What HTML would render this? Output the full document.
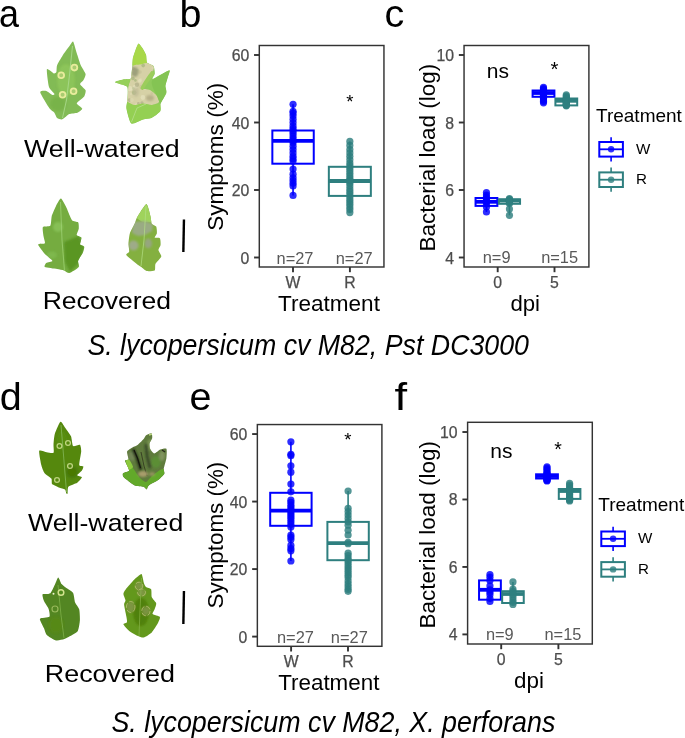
<!DOCTYPE html>
<html><head><meta charset="utf-8"><title>Figure</title>
<style>html,body{margin:0;padding:0;background:#fff;} body{width:685px;height:738px;overflow:hidden;font-family:"Liberation Sans",sans-serif;} svg{display:block;will-change:transform;}</style>
</head><body>
<svg width="685" height="738" viewBox="0 0 685 738" font-family="Liberation Sans, sans-serif">
<rect width="685" height="738" fill="#fff"/>
<text x="-1.1" y="26.6" font-size="39" text-anchor="start" fill="#000"  textLength="20" lengthAdjust="spacingAndGlyphs">a</text>
<text x="179.5" y="26.9" font-size="39.5" text-anchor="start" fill="#000"  >b</text>
<text x="384.6" y="26.8" font-size="39.5" text-anchor="start" fill="#000"  >c</text>
<text x="-0.2" y="410.4" font-size="39.5" text-anchor="start" fill="#000"  >d</text>
<text x="189.6" y="410.2" font-size="39.5" text-anchor="start" fill="#000"  >e</text>
<text x="394.6" y="410" font-size="39.5" text-anchor="start" fill="#000"  textLength="12.6" lengthAdjust="spacingAndGlyphs">f</text>
<text x="101.9" y="157.3" font-size="24.8" text-anchor="middle" fill="#000"  textLength="155.7" lengthAdjust="spacingAndGlyphs">Well-watered</text>
<text x="106.9" y="308.6" font-size="24.8" text-anchor="middle" fill="#000"  textLength="128.5" lengthAdjust="spacingAndGlyphs">Recovered</text>
<text x="105.7" y="531.1" font-size="24.8" text-anchor="middle" fill="#000"  textLength="155.2" lengthAdjust="spacingAndGlyphs">Well-watered</text>
<text x="109.8" y="682.4" font-size="24.8" text-anchor="middle" fill="#000"  textLength="130.1" lengthAdjust="spacingAndGlyphs">Recovered</text>
<text x="308.2" y="354.8" font-size="28.8" text-anchor="middle" fill="#000" font-style="italic" textLength="441.6" lengthAdjust="spacingAndGlyphs">S. lycopersicum cv M82, Pst DC3000</text>
<text x="333.4" y="732.1" font-size="28.6" text-anchor="middle" fill="#000" font-style="italic" textLength="443.9" lengthAdjust="spacingAndGlyphs">S. lycopersicum cv M82, X. perforans</text>
<line x1="183.95" y1="219.4" x2="183.35" y2="251.9" stroke="#000" stroke-width="2.4"/>
<line x1="183.95" y1="591.1" x2="183.35" y2="623.9" stroke="#000" stroke-width="2.4"/>
<line x1="293.05" y1="104.275" x2="293.05" y2="130.5" stroke="#0000ff" stroke-width="1.6"/>
<line x1="293.05" y1="163.7" x2="293.05" y2="195.4" stroke="#0000ff" stroke-width="1.6"/>
<rect x="272.35" y="130.5" width="41.4" height="33.19999999999999" fill="#fff" stroke="#0000ff" stroke-width="2.0"/>
<line x1="272.35" y1="140.9" x2="313.75" y2="140.9" stroke="#0000ff" stroke-width="3.8"/>
<circle cx="293.05" cy="104.275" r="3.6" fill="#0000ff" fill-opacity="0.82"/>
<circle cx="293.05" cy="111.36250000000001" r="3.6" fill="#0000ff" fill-opacity="0.82"/>
<circle cx="293.05" cy="113.05000000000001" r="3.6" fill="#0000ff" fill-opacity="0.82"/>
<circle cx="293.05" cy="115.75" r="3.6" fill="#0000ff" fill-opacity="0.82"/>
<circle cx="293.05" cy="119.125" r="3.6" fill="#0000ff" fill-opacity="0.82"/>
<circle cx="293.05" cy="122.5" r="3.6" fill="#0000ff" fill-opacity="0.82"/>
<circle cx="293.05" cy="125.875" r="3.6" fill="#0000ff" fill-opacity="0.82"/>
<circle cx="293.05" cy="128.575" r="3.6" fill="#0000ff" fill-opacity="0.82"/>
<circle cx="293.05" cy="130.9375" r="3.6" fill="#0000ff" fill-opacity="0.82"/>
<circle cx="293.05" cy="133.3" r="3.6" fill="#0000ff" fill-opacity="0.82"/>
<circle cx="293.05" cy="136.0" r="3.6" fill="#0000ff" fill-opacity="0.82"/>
<circle cx="293.05" cy="138.7" r="3.6" fill="#0000ff" fill-opacity="0.82"/>
<circle cx="293.05" cy="140.725" r="3.6" fill="#0000ff" fill-opacity="0.82"/>
<circle cx="293.05" cy="142.75" r="3.6" fill="#0000ff" fill-opacity="0.82"/>
<circle cx="293.05" cy="146.125" r="3.6" fill="#0000ff" fill-opacity="0.82"/>
<circle cx="293.05" cy="149.5" r="3.6" fill="#0000ff" fill-opacity="0.82"/>
<circle cx="293.05" cy="152.875" r="3.6" fill="#0000ff" fill-opacity="0.82"/>
<circle cx="293.05" cy="156.25" r="3.6" fill="#0000ff" fill-opacity="0.82"/>
<circle cx="293.05" cy="158.95" r="3.6" fill="#0000ff" fill-opacity="0.82"/>
<circle cx="293.05" cy="160.975" r="3.6" fill="#0000ff" fill-opacity="0.82"/>
<circle cx="293.05" cy="169.075" r="3.6" fill="#0000ff" fill-opacity="0.82"/>
<circle cx="293.05" cy="174.1375" r="3.6" fill="#0000ff" fill-opacity="0.82"/>
<circle cx="293.05" cy="177.85" r="3.6" fill="#0000ff" fill-opacity="0.82"/>
<circle cx="293.05" cy="180.55" r="3.6" fill="#0000ff" fill-opacity="0.82"/>
<circle cx="293.05" cy="183.25" r="3.6" fill="#0000ff" fill-opacity="0.82"/>
<circle cx="293.05" cy="185.95" r="3.6" fill="#0000ff" fill-opacity="0.82"/>
<circle cx="293.05" cy="195.4" r="3.6" fill="#0000ff" fill-opacity="0.82"/>
<line x1="349.85" y1="141.4" x2="349.85" y2="166.8" stroke="#2e7f7f" stroke-width="1.6"/>
<line x1="349.85" y1="195.9" x2="349.85" y2="212.6125" stroke="#2e7f7f" stroke-width="1.6"/>
<rect x="328.85" y="166.8" width="42.0" height="29.099999999999994" fill="#fff" stroke="#2e7f7f" stroke-width="2.0"/>
<line x1="328.85" y1="181.0" x2="370.85" y2="181.0" stroke="#2e7f7f" stroke-width="3.8"/>
<circle cx="349.85" cy="141.4" r="3.6" fill="#2e7f7f" fill-opacity="0.82"/>
<circle cx="349.85" cy="145.45" r="3.6" fill="#2e7f7f" fill-opacity="0.82"/>
<circle cx="349.85" cy="149.5" r="3.6" fill="#2e7f7f" fill-opacity="0.82"/>
<circle cx="349.85" cy="152.875" r="3.6" fill="#2e7f7f" fill-opacity="0.82"/>
<circle cx="349.85" cy="156.25" r="3.6" fill="#2e7f7f" fill-opacity="0.82"/>
<circle cx="349.85" cy="159.625" r="3.6" fill="#2e7f7f" fill-opacity="0.82"/>
<circle cx="349.85" cy="163.0" r="3.6" fill="#2e7f7f" fill-opacity="0.82"/>
<circle cx="349.85" cy="165.7" r="3.6" fill="#2e7f7f" fill-opacity="0.82"/>
<circle cx="349.85" cy="168.0625" r="3.6" fill="#2e7f7f" fill-opacity="0.82"/>
<circle cx="349.85" cy="170.425" r="3.6" fill="#2e7f7f" fill-opacity="0.82"/>
<circle cx="349.85" cy="173.125" r="3.6" fill="#2e7f7f" fill-opacity="0.82"/>
<circle cx="349.85" cy="175.825" r="3.6" fill="#2e7f7f" fill-opacity="0.82"/>
<circle cx="349.85" cy="178.1875" r="3.6" fill="#2e7f7f" fill-opacity="0.82"/>
<circle cx="349.85" cy="180.55" r="3.6" fill="#2e7f7f" fill-opacity="0.82"/>
<circle cx="349.85" cy="180.8875" r="3.6" fill="#2e7f7f" fill-opacity="0.82"/>
<circle cx="349.85" cy="183.25" r="3.6" fill="#2e7f7f" fill-opacity="0.82"/>
<circle cx="349.85" cy="185.95" r="3.6" fill="#2e7f7f" fill-opacity="0.82"/>
<circle cx="349.85" cy="188.9875" r="3.6" fill="#2e7f7f" fill-opacity="0.82"/>
<circle cx="349.85" cy="191.6875" r="3.6" fill="#2e7f7f" fill-opacity="0.82"/>
<circle cx="349.85" cy="194.05" r="3.6" fill="#2e7f7f" fill-opacity="0.82"/>
<circle cx="349.85" cy="196.75" r="3.6" fill="#2e7f7f" fill-opacity="0.82"/>
<circle cx="349.85" cy="199.45" r="3.6" fill="#2e7f7f" fill-opacity="0.82"/>
<circle cx="349.85" cy="201.8125" r="3.6" fill="#2e7f7f" fill-opacity="0.82"/>
<circle cx="349.85" cy="204.175" r="3.6" fill="#2e7f7f" fill-opacity="0.82"/>
<circle cx="349.85" cy="206.875" r="3.6" fill="#2e7f7f" fill-opacity="0.82"/>
<circle cx="349.85" cy="209.575" r="3.6" fill="#2e7f7f" fill-opacity="0.82"/>
<circle cx="349.85" cy="212.6125" r="3.6" fill="#2e7f7f" fill-opacity="0.82"/>
<rect x="259.3" y="45.5" width="124.64999999999998" height="221.5" fill="none" stroke="#333333" stroke-width="1.45"/>
<line x1="254.10000000000002" y1="55.0" x2="259.3" y2="55.0" stroke="#333333" stroke-width="1.9"/>
<text x="249.3" y="61.0" font-size="15.8" text-anchor="end" fill="#4d4d4d"  stroke="#4d4d4d" stroke-width="0.25">60</text>
<line x1="254.10000000000002" y1="122.5" x2="259.3" y2="122.5" stroke="#333333" stroke-width="1.9"/>
<text x="249.3" y="128.5" font-size="15.8" text-anchor="end" fill="#4d4d4d"  stroke="#4d4d4d" stroke-width="0.25">40</text>
<line x1="254.10000000000002" y1="190.0" x2="259.3" y2="190.0" stroke="#333333" stroke-width="1.9"/>
<text x="249.3" y="196.0" font-size="15.8" text-anchor="end" fill="#4d4d4d"  stroke="#4d4d4d" stroke-width="0.25">20</text>
<line x1="254.10000000000002" y1="257.5" x2="259.3" y2="257.5" stroke="#333333" stroke-width="1.9"/>
<text x="249.3" y="263.5" font-size="15.8" text-anchor="end" fill="#4d4d4d"  stroke="#4d4d4d" stroke-width="0.25">0</text>
<line x1="293.0" y1="267.0" x2="293.0" y2="272.2" stroke="#333333" stroke-width="1.9"/>
<text x="293.0" y="287.8" font-size="15.8" text-anchor="middle" fill="#4d4d4d"  stroke="#4d4d4d" stroke-width="0.25">W</text>
<line x1="349.9" y1="267.0" x2="349.9" y2="272.2" stroke="#333333" stroke-width="1.9"/>
<text x="349.9" y="287.8" font-size="15.8" text-anchor="middle" fill="#4d4d4d"  stroke="#4d4d4d" stroke-width="0.25">R</text>
<text x="295.0" y="263.6" font-size="16.4" text-anchor="middle" fill="#595959"  >n=27</text>
<text x="354.2" y="263.6" font-size="16.4" text-anchor="middle" fill="#595959"  >n=27</text>
<text x="349.9" y="107.8" font-size="18.5" text-anchor="middle" fill="#000"  >*</text>
<text x="329.0" y="310.8" font-size="22.5" text-anchor="middle" fill="#000"  textLength="101.8" lengthAdjust="spacingAndGlyphs">Treatment</text>
<text x="0" y="0" font-size="22.6" text-anchor="middle" fill="#000"  transform="translate(223.0,156.8) rotate(-90)">Symptoms (%)</text>
<rect x="464.05" y="45.5" width="124.84999999999997" height="221.5" fill="none" stroke="#333333" stroke-width="1.45"/>
<line x1="486.45" y1="192.5" x2="486.45" y2="198.0" stroke="#0000ff" stroke-width="1.6"/>
<line x1="486.45" y1="205.9" x2="486.45" y2="212" stroke="#0000ff" stroke-width="1.6"/>
<rect x="475.55" y="198.0" width="21.8" height="7.900000000000006" fill="#fff" stroke="#0000ff" stroke-width="2.0"/>
<line x1="475.55" y1="201.8" x2="497.34999999999997" y2="201.8" stroke="#0000ff" stroke-width="3.8"/>
<circle cx="486.45" cy="192.5" r="3.6" fill="#0000ff" fill-opacity="0.82"/>
<circle cx="486.45" cy="195" r="3.6" fill="#0000ff" fill-opacity="0.82"/>
<circle cx="486.45" cy="197" r="3.6" fill="#0000ff" fill-opacity="0.82"/>
<circle cx="486.45" cy="199" r="3.6" fill="#0000ff" fill-opacity="0.82"/>
<circle cx="486.45" cy="200.5" r="3.6" fill="#0000ff" fill-opacity="0.82"/>
<circle cx="486.45" cy="202" r="3.6" fill="#0000ff" fill-opacity="0.82"/>
<circle cx="486.45" cy="204" r="3.6" fill="#0000ff" fill-opacity="0.82"/>
<circle cx="486.45" cy="207" r="3.6" fill="#0000ff" fill-opacity="0.82"/>
<circle cx="486.45" cy="212" r="3.6" fill="#0000ff" fill-opacity="0.82"/>
<line x1="509.45" y1="198.5" x2="509.45" y2="199.3" stroke="#2e7f7f" stroke-width="1.6"/>
<line x1="509.45" y1="203.8" x2="509.45" y2="215.3" stroke="#2e7f7f" stroke-width="1.6"/>
<rect x="498.84999999999997" y="199.3" width="21.2" height="4.5" fill="#fff" stroke="#2e7f7f" stroke-width="2.0"/>
<line x1="498.84999999999997" y1="200.6" x2="520.05" y2="200.6" stroke="#2e7f7f" stroke-width="3.8"/>
<circle cx="509.45" cy="198.5" r="3.6" fill="#2e7f7f" fill-opacity="0.82"/>
<circle cx="509.45" cy="199.3" r="3.6" fill="#2e7f7f" fill-opacity="0.82"/>
<circle cx="509.45" cy="200.2" r="3.6" fill="#2e7f7f" fill-opacity="0.82"/>
<circle cx="509.45" cy="201" r="3.6" fill="#2e7f7f" fill-opacity="0.82"/>
<circle cx="509.45" cy="201.8" r="3.6" fill="#2e7f7f" fill-opacity="0.82"/>
<circle cx="509.45" cy="202.6" r="3.6" fill="#2e7f7f" fill-opacity="0.82"/>
<circle cx="509.45" cy="203.5" r="3.6" fill="#2e7f7f" fill-opacity="0.82"/>
<circle cx="509.45" cy="209.1" r="3.6" fill="#2e7f7f" fill-opacity="0.82"/>
<circle cx="509.45" cy="215.3" r="3.6" fill="#2e7f7f" fill-opacity="0.82"/>
<line x1="543.5" y1="87.4" x2="543.5" y2="90.5" stroke="#0000ff" stroke-width="1.6"/>
<line x1="543.5" y1="96.8" x2="543.5" y2="102.8" stroke="#0000ff" stroke-width="1.6"/>
<rect x="532.6" y="90.5" width="21.8" height="6.299999999999997" fill="#fff" stroke="#0000ff" stroke-width="2.0"/>
<line x1="532.6" y1="93.0" x2="554.4" y2="93.0" stroke="#0000ff" stroke-width="3.8"/>
<circle cx="543.5" cy="87.4" r="3.6" fill="#0000ff" fill-opacity="0.82"/>
<circle cx="543.5" cy="88.5" r="3.6" fill="#0000ff" fill-opacity="0.82"/>
<circle cx="543.5" cy="89.5" r="3.6" fill="#0000ff" fill-opacity="0.82"/>
<circle cx="543.5" cy="90.5" r="3.6" fill="#0000ff" fill-opacity="0.82"/>
<circle cx="543.5" cy="91.5" r="3.6" fill="#0000ff" fill-opacity="0.82"/>
<circle cx="543.5" cy="92.5" r="3.6" fill="#0000ff" fill-opacity="0.82"/>
<circle cx="543.5" cy="93.5" r="3.6" fill="#0000ff" fill-opacity="0.82"/>
<circle cx="543.5" cy="94.5" r="3.6" fill="#0000ff" fill-opacity="0.82"/>
<circle cx="543.5" cy="95.5" r="3.6" fill="#0000ff" fill-opacity="0.82"/>
<circle cx="543.5" cy="96.5" r="3.6" fill="#0000ff" fill-opacity="0.82"/>
<circle cx="543.5" cy="97.5" r="3.6" fill="#0000ff" fill-opacity="0.82"/>
<circle cx="543.5" cy="98.5" r="3.6" fill="#0000ff" fill-opacity="0.82"/>
<circle cx="543.5" cy="100" r="3.6" fill="#0000ff" fill-opacity="0.82"/>
<circle cx="543.5" cy="101.5" r="3.6" fill="#0000ff" fill-opacity="0.82"/>
<circle cx="543.5" cy="102.8" r="3.6" fill="#0000ff" fill-opacity="0.82"/>
<line x1="566.3" y1="94.9" x2="566.3" y2="98.5" stroke="#2e7f7f" stroke-width="1.6"/>
<line x1="566.3" y1="105.4" x2="566.3" y2="105.8" stroke="#2e7f7f" stroke-width="1.6"/>
<rect x="555.4" y="98.5" width="21.8" height="6.900000000000006" fill="#fff" stroke="#2e7f7f" stroke-width="2.0"/>
<line x1="555.4" y1="100.8" x2="577.1999999999999" y2="100.8" stroke="#2e7f7f" stroke-width="3.8"/>
<circle cx="566.3" cy="94.9" r="3.6" fill="#2e7f7f" fill-opacity="0.82"/>
<circle cx="566.3" cy="96" r="3.6" fill="#2e7f7f" fill-opacity="0.82"/>
<circle cx="566.3" cy="97" r="3.6" fill="#2e7f7f" fill-opacity="0.82"/>
<circle cx="566.3" cy="98" r="3.6" fill="#2e7f7f" fill-opacity="0.82"/>
<circle cx="566.3" cy="99" r="3.6" fill="#2e7f7f" fill-opacity="0.82"/>
<circle cx="566.3" cy="99.8" r="3.6" fill="#2e7f7f" fill-opacity="0.82"/>
<circle cx="566.3" cy="100.5" r="3.6" fill="#2e7f7f" fill-opacity="0.82"/>
<circle cx="566.3" cy="101.2" r="3.6" fill="#2e7f7f" fill-opacity="0.82"/>
<circle cx="566.3" cy="102" r="3.6" fill="#2e7f7f" fill-opacity="0.82"/>
<circle cx="566.3" cy="102.8" r="3.6" fill="#2e7f7f" fill-opacity="0.82"/>
<circle cx="566.3" cy="103.5" r="3.6" fill="#2e7f7f" fill-opacity="0.82"/>
<circle cx="566.3" cy="104.2" r="3.6" fill="#2e7f7f" fill-opacity="0.82"/>
<circle cx="566.3" cy="104.8" r="3.6" fill="#2e7f7f" fill-opacity="0.82"/>
<circle cx="566.3" cy="105.3" r="3.6" fill="#2e7f7f" fill-opacity="0.82"/>
<circle cx="566.3" cy="105.8" r="3.6" fill="#2e7f7f" fill-opacity="0.82"/>
<line x1="458.85" y1="55.0" x2="464.05" y2="55.0" stroke="#333333" stroke-width="1.9"/>
<text x="454.05" y="61.0" font-size="15.8" text-anchor="end" fill="#4d4d4d"  stroke="#4d4d4d" stroke-width="0.25">10</text>
<line x1="458.85" y1="122.5" x2="464.05" y2="122.5" stroke="#333333" stroke-width="1.9"/>
<text x="454.05" y="128.5" font-size="15.8" text-anchor="end" fill="#4d4d4d"  stroke="#4d4d4d" stroke-width="0.25">8</text>
<line x1="458.85" y1="190.0" x2="464.05" y2="190.0" stroke="#333333" stroke-width="1.9"/>
<text x="454.05" y="196.0" font-size="15.8" text-anchor="end" fill="#4d4d4d"  stroke="#4d4d4d" stroke-width="0.25">6</text>
<line x1="458.85" y1="257.5" x2="464.05" y2="257.5" stroke="#333333" stroke-width="1.9"/>
<text x="454.05" y="263.5" font-size="15.8" text-anchor="end" fill="#4d4d4d"  stroke="#4d4d4d" stroke-width="0.25">4</text>
<line x1="497.7" y1="267.0" x2="497.7" y2="272.2" stroke="#333333" stroke-width="1.9"/>
<text x="497.7" y="287.8" font-size="15.8" text-anchor="middle" fill="#4d4d4d"  stroke="#4d4d4d" stroke-width="0.25">0</text>
<line x1="554.5" y1="267.0" x2="554.5" y2="272.2" stroke="#333333" stroke-width="1.9"/>
<text x="554.5" y="287.8" font-size="15.8" text-anchor="middle" fill="#4d4d4d"  stroke="#4d4d4d" stroke-width="0.25">5</text>
<text x="496.6" y="263.0" font-size="16.4" text-anchor="middle" fill="#595959"  >n=9</text>
<text x="559.6" y="263.0" font-size="16.4" text-anchor="middle" fill="#595959"  >n=15</text>
<text x="497.9" y="77.8" font-size="21" text-anchor="middle" fill="#000"  >ns</text>
<text x="554.5" y="76.2" font-size="20.5" text-anchor="middle" fill="#000"  >*</text>
<text x="525.2" y="310.9" font-size="22.2" text-anchor="middle" fill="#000"  >dpi</text>
<text x="0" y="0" font-size="22.5" text-anchor="middle" fill="#000"  transform="translate(434.6,157.6) rotate(-90)">Bacterial load (log)</text>
<text x="596.0" y="122.0" font-size="19.0" text-anchor="start" fill="#000"  >Treatment</text>
<line x1="611.1" y1="137.20000000000002" x2="611.1" y2="161.4" stroke="#0000ff" stroke-width="1.6"/>
<rect x="599.3000000000001" y="142.0" width="23.6" height="14.6" fill="#fff" stroke="#0000ff" stroke-width="2"/>
<line x1="599.3000000000001" y1="149.3" x2="622.9" y2="149.3" stroke="#0000ff" stroke-width="1.8"/>
<circle cx="611.1" cy="149.3" r="3.2" fill="#0000ff" fill-opacity="0.8"/>
<text x="636.0" y="153.9" font-size="15.2" text-anchor="start" fill="#000"  >W</text>
<line x1="611.1" y1="167.6" x2="611.1" y2="191.79999999999998" stroke="#2e7f7f" stroke-width="1.6"/>
<rect x="599.3000000000001" y="172.39999999999998" width="23.6" height="14.6" fill="#fff" stroke="#2e7f7f" stroke-width="2"/>
<line x1="599.3000000000001" y1="179.7" x2="622.9" y2="179.7" stroke="#2e7f7f" stroke-width="1.8"/>
<circle cx="611.1" cy="179.7" r="3.2" fill="#2e7f7f" fill-opacity="0.8"/>
<text x="636.0" y="184.29999999999998" font-size="15.2" text-anchor="start" fill="#000"  >R</text>
<line x1="290.9" y1="441.81634" x2="290.9" y2="492.8" stroke="#0000ff" stroke-width="1.6"/>
<line x1="290.9" y1="525.8" x2="290.9" y2="560.98208" stroke="#0000ff" stroke-width="1.6"/>
<rect x="270.2" y="492.8" width="41.4" height="32.99999999999994" fill="#fff" stroke="#0000ff" stroke-width="2.0"/>
<line x1="270.2" y1="510.6" x2="311.59999999999997" y2="510.6" stroke="#0000ff" stroke-width="3.8"/>
<circle cx="290.9" cy="441.81634" r="3.6" fill="#0000ff" fill-opacity="0.82"/>
<circle cx="290.9" cy="454.30680000000007" r="3.6" fill="#0000ff" fill-opacity="0.82"/>
<circle cx="290.9" cy="455.65712" r="3.6" fill="#0000ff" fill-opacity="0.82"/>
<circle cx="290.9" cy="465.78452000000004" r="3.6" fill="#0000ff" fill-opacity="0.82"/>
<circle cx="290.9" cy="472.19854" r="3.6" fill="#0000ff" fill-opacity="0.82"/>
<circle cx="290.9" cy="484.01384" r="3.6" fill="#0000ff" fill-opacity="0.82"/>
<circle cx="290.9" cy="491.77818" r="3.6" fill="#0000ff" fill-opacity="0.82"/>
<circle cx="290.9" cy="500.21768000000003" r="3.6" fill="#0000ff" fill-opacity="0.82"/>
<circle cx="290.9" cy="502.24316000000005" r="3.6" fill="#0000ff" fill-opacity="0.82"/>
<circle cx="290.9" cy="504.9438" r="3.6" fill="#0000ff" fill-opacity="0.82"/>
<circle cx="290.9" cy="506.96928" r="3.6" fill="#0000ff" fill-opacity="0.82"/>
<circle cx="290.9" cy="508.99476000000004" r="3.6" fill="#0000ff" fill-opacity="0.82"/>
<circle cx="290.9" cy="511.02024" r="3.6" fill="#0000ff" fill-opacity="0.82"/>
<circle cx="290.9" cy="513.0457200000001" r="3.6" fill="#0000ff" fill-opacity="0.82"/>
<circle cx="290.9" cy="515.0712000000001" r="3.6" fill="#0000ff" fill-opacity="0.82"/>
<circle cx="290.9" cy="517.09668" r="3.6" fill="#0000ff" fill-opacity="0.82"/>
<circle cx="290.9" cy="519.12216" r="3.6" fill="#0000ff" fill-opacity="0.82"/>
<circle cx="290.9" cy="521.48522" r="3.6" fill="#0000ff" fill-opacity="0.82"/>
<circle cx="290.9" cy="524.18586" r="3.6" fill="#0000ff" fill-opacity="0.82"/>
<circle cx="290.9" cy="526.8865000000001" r="3.6" fill="#0000ff" fill-opacity="0.82"/>
<circle cx="290.9" cy="534.98842" r="3.6" fill="#0000ff" fill-opacity="0.82"/>
<circle cx="290.9" cy="537.0139" r="3.6" fill="#0000ff" fill-opacity="0.82"/>
<circle cx="290.9" cy="539.37696" r="3.6" fill="#0000ff" fill-opacity="0.82"/>
<circle cx="290.9" cy="545.4534" r="3.6" fill="#0000ff" fill-opacity="0.82"/>
<circle cx="290.9" cy="548.49162" r="3.6" fill="#0000ff" fill-opacity="0.82"/>
<circle cx="290.9" cy="550.85468" r="3.6" fill="#0000ff" fill-opacity="0.82"/>
<circle cx="290.9" cy="560.98208" r="3.6" fill="#0000ff" fill-opacity="0.82"/>
<line x1="348.1" y1="491.10302" x2="348.1" y2="521.9" stroke="#2e7f7f" stroke-width="1.6"/>
<line x1="348.1" y1="560.2" x2="348.1" y2="591.36428" stroke="#2e7f7f" stroke-width="1.6"/>
<rect x="327.40000000000003" y="521.9" width="41.4" height="38.30000000000007" fill="#fff" stroke="#2e7f7f" stroke-width="2.0"/>
<line x1="327.40000000000003" y1="543.2" x2="368.8" y2="543.2" stroke="#2e7f7f" stroke-width="3.8"/>
<circle cx="348.1" cy="491.10302" r="3.6" fill="#2e7f7f" fill-opacity="0.82"/>
<circle cx="348.1" cy="508.31960000000004" r="3.6" fill="#2e7f7f" fill-opacity="0.82"/>
<circle cx="348.1" cy="511.6954" r="3.6" fill="#2e7f7f" fill-opacity="0.82"/>
<circle cx="348.1" cy="515.0712000000001" r="3.6" fill="#2e7f7f" fill-opacity="0.82"/>
<circle cx="348.1" cy="518.447" r="3.6" fill="#2e7f7f" fill-opacity="0.82"/>
<circle cx="348.1" cy="521.8228" r="3.6" fill="#2e7f7f" fill-opacity="0.82"/>
<circle cx="348.1" cy="525.1986" r="3.6" fill="#2e7f7f" fill-opacity="0.82"/>
<circle cx="348.1" cy="530.2623" r="3.6" fill="#2e7f7f" fill-opacity="0.82"/>
<circle cx="348.1" cy="534.98842" r="3.6" fill="#2e7f7f" fill-opacity="0.82"/>
<circle cx="348.1" cy="542.4151800000001" r="3.6" fill="#2e7f7f" fill-opacity="0.82"/>
<circle cx="348.1" cy="543.7655" r="3.6" fill="#2e7f7f" fill-opacity="0.82"/>
<circle cx="348.1" cy="553.21774" r="3.6" fill="#2e7f7f" fill-opacity="0.82"/>
<circle cx="348.1" cy="555.5808000000001" r="3.6" fill="#2e7f7f" fill-opacity="0.82"/>
<circle cx="348.1" cy="558.28144" r="3.6" fill="#2e7f7f" fill-opacity="0.82"/>
<circle cx="348.1" cy="560.6445" r="3.6" fill="#2e7f7f" fill-opacity="0.82"/>
<circle cx="348.1" cy="563.00756" r="3.6" fill="#2e7f7f" fill-opacity="0.82"/>
<circle cx="348.1" cy="565.7082" r="3.6" fill="#2e7f7f" fill-opacity="0.82"/>
<circle cx="348.1" cy="568.07126" r="3.6" fill="#2e7f7f" fill-opacity="0.82"/>
<circle cx="348.1" cy="570.4343200000001" r="3.6" fill="#2e7f7f" fill-opacity="0.82"/>
<circle cx="348.1" cy="572.79738" r="3.6" fill="#2e7f7f" fill-opacity="0.82"/>
<circle cx="348.1" cy="575.16044" r="3.6" fill="#2e7f7f" fill-opacity="0.82"/>
<circle cx="348.1" cy="577.5235" r="3.6" fill="#2e7f7f" fill-opacity="0.82"/>
<circle cx="348.1" cy="580.8993" r="3.6" fill="#2e7f7f" fill-opacity="0.82"/>
<circle cx="348.1" cy="583.9375200000001" r="3.6" fill="#2e7f7f" fill-opacity="0.82"/>
<circle cx="348.1" cy="586.63816" r="3.6" fill="#2e7f7f" fill-opacity="0.82"/>
<circle cx="348.1" cy="589.3388" r="3.6" fill="#2e7f7f" fill-opacity="0.82"/>
<circle cx="348.1" cy="591.36428" r="3.6" fill="#2e7f7f" fill-opacity="0.82"/>
<rect x="257.35" y="424.55" width="124.54999999999995" height="221.74999999999994" fill="none" stroke="#333333" stroke-width="1.45"/>
<line x1="252.15000000000003" y1="434.052" x2="257.35" y2="434.052" stroke="#333333" stroke-width="1.9"/>
<text x="247.35000000000002" y="440.052" font-size="15.8" text-anchor="end" fill="#4d4d4d"  stroke="#4d4d4d" stroke-width="0.25">60</text>
<line x1="252.15000000000003" y1="501.56800000000004" x2="257.35" y2="501.56800000000004" stroke="#333333" stroke-width="1.9"/>
<text x="247.35000000000002" y="507.56800000000004" font-size="15.8" text-anchor="end" fill="#4d4d4d"  stroke="#4d4d4d" stroke-width="0.25">40</text>
<line x1="252.15000000000003" y1="569.0840000000001" x2="257.35" y2="569.0840000000001" stroke="#333333" stroke-width="1.9"/>
<text x="247.35000000000002" y="575.0840000000001" font-size="15.8" text-anchor="end" fill="#4d4d4d"  stroke="#4d4d4d" stroke-width="0.25">20</text>
<line x1="252.15000000000003" y1="636.6" x2="257.35" y2="636.6" stroke="#333333" stroke-width="1.9"/>
<text x="247.35000000000002" y="642.6" font-size="15.8" text-anchor="end" fill="#4d4d4d"  stroke="#4d4d4d" stroke-width="0.25">0</text>
<line x1="291.1" y1="646.3" x2="291.1" y2="651.5" stroke="#333333" stroke-width="1.9"/>
<text x="291.1" y="667.0999999999999" font-size="15.8" text-anchor="middle" fill="#4d4d4d"  stroke="#4d4d4d" stroke-width="0.25">W</text>
<line x1="348.0" y1="646.3" x2="348.0" y2="651.5" stroke="#333333" stroke-width="1.9"/>
<text x="348.0" y="667.0999999999999" font-size="15.8" text-anchor="middle" fill="#4d4d4d"  stroke="#4d4d4d" stroke-width="0.25">R</text>
<text x="295.4" y="643.0" font-size="16.4" text-anchor="middle" fill="#595959"  >n=27</text>
<text x="349.3" y="643.0" font-size="16.4" text-anchor="middle" fill="#595959"  >n=27</text>
<text x="347.9" y="446.1" font-size="18.5" text-anchor="middle" fill="#000"  >*</text>
<text x="328.8" y="690.3" font-size="22.8" text-anchor="middle" fill="#000"  textLength="101.2" lengthAdjust="spacingAndGlyphs">Treatment</text>
<text x="0" y="0" font-size="22.4" text-anchor="middle" fill="#000"  transform="translate(223.2,535.1) rotate(-90)">Symptoms (%)</text>
<rect x="467.6" y="422.3" width="124.69999999999993" height="221.7" fill="none" stroke="#333333" stroke-width="1.45"/>
<line x1="489.95" y1="574.6" x2="489.95" y2="580.4" stroke="#0000ff" stroke-width="1.6"/>
<line x1="489.95" y1="599.7" x2="489.95" y2="601.5" stroke="#0000ff" stroke-width="1.6"/>
<rect x="479.05" y="580.4" width="21.8" height="19.300000000000068" fill="#fff" stroke="#0000ff" stroke-width="2.0"/>
<line x1="479.05" y1="589.8" x2="500.84999999999997" y2="589.8" stroke="#0000ff" stroke-width="3.8"/>
<circle cx="489.95" cy="574.6" r="3.6" fill="#0000ff" fill-opacity="0.82"/>
<circle cx="489.95" cy="577.2" r="3.6" fill="#0000ff" fill-opacity="0.82"/>
<circle cx="489.95" cy="580.5" r="3.6" fill="#0000ff" fill-opacity="0.82"/>
<circle cx="489.95" cy="585.9" r="3.6" fill="#0000ff" fill-opacity="0.82"/>
<circle cx="489.95" cy="589.8" r="3.6" fill="#0000ff" fill-opacity="0.82"/>
<circle cx="489.95" cy="592.2" r="3.6" fill="#0000ff" fill-opacity="0.82"/>
<circle cx="489.95" cy="594.7" r="3.6" fill="#0000ff" fill-opacity="0.82"/>
<circle cx="489.95" cy="598.5" r="3.6" fill="#0000ff" fill-opacity="0.82"/>
<circle cx="489.95" cy="601.5" r="3.6" fill="#0000ff" fill-opacity="0.82"/>
<line x1="512.95" y1="581.9" x2="512.95" y2="591.2" stroke="#2e7f7f" stroke-width="1.6"/>
<line x1="512.95" y1="603.0" x2="512.95" y2="604.4" stroke="#2e7f7f" stroke-width="1.6"/>
<rect x="502.15000000000003" y="591.2" width="21.6" height="11.799999999999955" fill="#fff" stroke="#2e7f7f" stroke-width="2.0"/>
<line x1="502.15000000000003" y1="594.0" x2="523.75" y2="594.0" stroke="#2e7f7f" stroke-width="3.8"/>
<circle cx="512.95" cy="581.9" r="3.6" fill="#2e7f7f" fill-opacity="0.82"/>
<circle cx="512.95" cy="589.1" r="3.6" fill="#2e7f7f" fill-opacity="0.82"/>
<circle cx="512.95" cy="591" r="3.6" fill="#2e7f7f" fill-opacity="0.82"/>
<circle cx="512.95" cy="593" r="3.6" fill="#2e7f7f" fill-opacity="0.82"/>
<circle cx="512.95" cy="595" r="3.6" fill="#2e7f7f" fill-opacity="0.82"/>
<circle cx="512.95" cy="597.5" r="3.6" fill="#2e7f7f" fill-opacity="0.82"/>
<circle cx="512.95" cy="600.3" r="3.6" fill="#2e7f7f" fill-opacity="0.82"/>
<circle cx="512.95" cy="602.5" r="3.6" fill="#2e7f7f" fill-opacity="0.82"/>
<circle cx="512.95" cy="604.4" r="3.6" fill="#2e7f7f" fill-opacity="0.82"/>
<line x1="547.0" y1="466.8" x2="547.0" y2="474.3" stroke="#0000ff" stroke-width="1.6"/>
<line x1="547.0" y1="478.5" x2="547.0" y2="480.9" stroke="#0000ff" stroke-width="1.6"/>
<rect x="536.1" y="474.3" width="21.8" height="4.199999999999989" fill="#fff" stroke="#0000ff" stroke-width="2.0"/>
<line x1="536.1" y1="476.0" x2="557.9" y2="476.0" stroke="#0000ff" stroke-width="3.8"/>
<circle cx="547.0" cy="466.8" r="3.6" fill="#0000ff" fill-opacity="0.82"/>
<circle cx="547.0" cy="468" r="3.6" fill="#0000ff" fill-opacity="0.82"/>
<circle cx="547.0" cy="469.5" r="3.6" fill="#0000ff" fill-opacity="0.82"/>
<circle cx="547.0" cy="471" r="3.6" fill="#0000ff" fill-opacity="0.82"/>
<circle cx="547.0" cy="472.5" r="3.6" fill="#0000ff" fill-opacity="0.82"/>
<circle cx="547.0" cy="473.5" r="3.6" fill="#0000ff" fill-opacity="0.82"/>
<circle cx="547.0" cy="474.5" r="3.6" fill="#0000ff" fill-opacity="0.82"/>
<circle cx="547.0" cy="475.5" r="3.6" fill="#0000ff" fill-opacity="0.82"/>
<circle cx="547.0" cy="476.5" r="3.6" fill="#0000ff" fill-opacity="0.82"/>
<circle cx="547.0" cy="477.5" r="3.6" fill="#0000ff" fill-opacity="0.82"/>
<circle cx="547.0" cy="478.5" r="3.6" fill="#0000ff" fill-opacity="0.82"/>
<circle cx="547.0" cy="479.3" r="3.6" fill="#0000ff" fill-opacity="0.82"/>
<circle cx="547.0" cy="480" r="3.6" fill="#0000ff" fill-opacity="0.82"/>
<circle cx="547.0" cy="480.5" r="3.6" fill="#0000ff" fill-opacity="0.82"/>
<circle cx="547.0" cy="480.9" r="3.6" fill="#0000ff" fill-opacity="0.82"/>
<line x1="569.6" y1="483.4" x2="569.6" y2="489.0" stroke="#2e7f7f" stroke-width="1.6"/>
<line x1="569.6" y1="498.9" x2="569.6" y2="500.9" stroke="#2e7f7f" stroke-width="1.6"/>
<rect x="558.8000000000001" y="489.0" width="21.6" height="9.899999999999977" fill="#fff" stroke="#2e7f7f" stroke-width="2.0"/>
<line x1="558.8000000000001" y1="491.0" x2="580.4" y2="491.0" stroke="#2e7f7f" stroke-width="3.8"/>
<circle cx="569.6" cy="483.4" r="3.6" fill="#2e7f7f" fill-opacity="0.82"/>
<circle cx="569.6" cy="485" r="3.6" fill="#2e7f7f" fill-opacity="0.82"/>
<circle cx="569.6" cy="487" r="3.6" fill="#2e7f7f" fill-opacity="0.82"/>
<circle cx="569.6" cy="488.5" r="3.6" fill="#2e7f7f" fill-opacity="0.82"/>
<circle cx="569.6" cy="490" r="3.6" fill="#2e7f7f" fill-opacity="0.82"/>
<circle cx="569.6" cy="491" r="3.6" fill="#2e7f7f" fill-opacity="0.82"/>
<circle cx="569.6" cy="492" r="3.6" fill="#2e7f7f" fill-opacity="0.82"/>
<circle cx="569.6" cy="493" r="3.6" fill="#2e7f7f" fill-opacity="0.82"/>
<circle cx="569.6" cy="494.5" r="3.6" fill="#2e7f7f" fill-opacity="0.82"/>
<circle cx="569.6" cy="496" r="3.6" fill="#2e7f7f" fill-opacity="0.82"/>
<circle cx="569.6" cy="497.5" r="3.6" fill="#2e7f7f" fill-opacity="0.82"/>
<circle cx="569.6" cy="498.4" r="3.6" fill="#2e7f7f" fill-opacity="0.82"/>
<circle cx="569.6" cy="499.3" r="3.6" fill="#2e7f7f" fill-opacity="0.82"/>
<circle cx="569.6" cy="500.2" r="3.6" fill="#2e7f7f" fill-opacity="0.82"/>
<circle cx="569.6" cy="500.9" r="3.6" fill="#2e7f7f" fill-opacity="0.82"/>
<line x1="462.40000000000003" y1="432.02" x2="467.6" y2="432.02" stroke="#333333" stroke-width="1.9"/>
<text x="457.6" y="438.02" font-size="15.8" text-anchor="end" fill="#4d4d4d"  stroke="#4d4d4d" stroke-width="0.25">10</text>
<line x1="462.40000000000003" y1="499.48" x2="467.6" y2="499.48" stroke="#333333" stroke-width="1.9"/>
<text x="457.6" y="505.48" font-size="15.8" text-anchor="end" fill="#4d4d4d"  stroke="#4d4d4d" stroke-width="0.25">8</text>
<line x1="462.40000000000003" y1="566.9399999999999" x2="467.6" y2="566.9399999999999" stroke="#333333" stroke-width="1.9"/>
<text x="457.6" y="572.9399999999999" font-size="15.8" text-anchor="end" fill="#4d4d4d"  stroke="#4d4d4d" stroke-width="0.25">6</text>
<line x1="462.40000000000003" y1="634.4" x2="467.6" y2="634.4" stroke="#333333" stroke-width="1.9"/>
<text x="457.6" y="640.4" font-size="15.8" text-anchor="end" fill="#4d4d4d"  stroke="#4d4d4d" stroke-width="0.25">4</text>
<line x1="501.2" y1="644.0" x2="501.2" y2="649.2" stroke="#333333" stroke-width="1.9"/>
<text x="501.2" y="664.8" font-size="15.8" text-anchor="middle" fill="#4d4d4d"  stroke="#4d4d4d" stroke-width="0.25">0</text>
<line x1="558.4" y1="644.0" x2="558.4" y2="649.2" stroke="#333333" stroke-width="1.9"/>
<text x="558.4" y="664.8" font-size="15.8" text-anchor="middle" fill="#4d4d4d"  stroke="#4d4d4d" stroke-width="0.25">5</text>
<text x="499.8" y="640.4" font-size="16.4" text-anchor="middle" fill="#595959"  >n=9</text>
<text x="562.9" y="640.4" font-size="16.4" text-anchor="middle" fill="#595959"  >n=15</text>
<text x="501.3" y="457.9" font-size="21" text-anchor="middle" fill="#000"  >ns</text>
<text x="558.0" y="456.3" font-size="19.5" text-anchor="middle" fill="#000"  >*</text>
<text x="529.0" y="688.2" font-size="22.4" text-anchor="middle" fill="#000"  >dpi</text>
<text x="0" y="0" font-size="22.5" text-anchor="middle" fill="#000"  transform="translate(434.6,534.7) rotate(-90)">Bacterial load (log)</text>
<text x="598.3" y="511.0" font-size="19.0" text-anchor="start" fill="#000"  >Treatment</text>
<line x1="613.1" y1="526.6999999999999" x2="613.1" y2="550.9" stroke="#0000ff" stroke-width="1.6"/>
<rect x="601.3000000000001" y="531.5" width="23.6" height="14.6" fill="#fff" stroke="#0000ff" stroke-width="2"/>
<line x1="601.3000000000001" y1="538.8" x2="624.9" y2="538.8" stroke="#0000ff" stroke-width="1.8"/>
<circle cx="613.1" cy="538.8" r="3.2" fill="#0000ff" fill-opacity="0.8"/>
<text x="638.0" y="543.4" font-size="15.2" text-anchor="start" fill="#000"  >W</text>
<line x1="613.1" y1="557.3" x2="613.1" y2="581.5" stroke="#2e7f7f" stroke-width="1.6"/>
<rect x="601.3000000000001" y="562.1" width="23.6" height="14.6" fill="#fff" stroke="#2e7f7f" stroke-width="2"/>
<line x1="601.3000000000001" y1="569.4" x2="624.9" y2="569.4" stroke="#2e7f7f" stroke-width="1.8"/>
<circle cx="613.1" cy="569.4" r="3.2" fill="#2e7f7f" fill-opacity="0.8"/>
<text x="638.0" y="574.0" font-size="15.2" text-anchor="start" fill="#000"  >R</text>
<defs><filter id="soft" x="-5%" y="-5%" width="110%" height="110%"><feGaussianBlur stdDeviation="0.45"/></filter><filter id="soft2" x="-20%" y="-20%" width="140%" height="140%"><feGaussianBlur stdDeviation="1.2"/></filter></defs>
<g filter="url(#soft)">
<clipPath id="lc1"><path d="M73.1,41.5 C73.8,42.2 75.9,50.6 76.7,53.0 C77.5,55.4 79.9,63.1 80.8,65.2 C81.7,67.3 85.3,72.5 85.6,74.0 C85.9,75.5 84.0,79.1 83.5,80.1 C83.0,81.1 79.9,83.2 80.1,84.2 C80.3,85.2 85.2,89.1 85.6,90.3 C86.0,91.5 85.1,95.1 84.2,96.4 C83.3,97.7 76.9,102.0 76.7,103.2 C76.5,104.4 82.1,107.6 82.2,108.6 C82.3,109.5 78.7,112.2 77.4,112.7 C76.1,113.2 70.5,113.6 69.3,114.0 C68.1,114.4 66.7,116.2 65.9,116.7 C65.2,117.2 62.7,119.3 61.8,119.4 C60.9,119.5 57.8,118.8 57.1,118.1 C56.4,117.4 55.1,113.7 54.4,112.7 C53.6,111.8 51.0,110.6 49.6,108.6 C48.2,106.6 40.5,94.1 40.2,92.3 C39.9,90.5 45.1,90.7 46.3,91.0 C47.5,91.3 51.6,94.7 52.4,95.0 C53.2,95.3 54.7,94.5 54.4,93.7 C54.1,92.9 49.8,89.3 49.0,86.9 C48.2,84.5 46.4,70.6 46.9,69.3 C47.4,68.0 52.8,73.1 53.7,73.4 C54.7,73.7 56.1,72.8 56.4,72.0 C56.7,71.2 56.5,66.8 57.1,65.2 C57.7,63.6 61.3,57.6 62.5,55.7 C63.7,53.8 68.2,47.7 69.3,46.3 C70.4,44.9 72.4,40.8 73.1,41.5 Z"/></clipPath><path d="M73.1,41.5 C73.8,42.2 75.9,50.6 76.7,53.0 C77.5,55.4 79.9,63.1 80.8,65.2 C81.7,67.3 85.3,72.5 85.6,74.0 C85.9,75.5 84.0,79.1 83.5,80.1 C83.0,81.1 79.9,83.2 80.1,84.2 C80.3,85.2 85.2,89.1 85.6,90.3 C86.0,91.5 85.1,95.1 84.2,96.4 C83.3,97.7 76.9,102.0 76.7,103.2 C76.5,104.4 82.1,107.6 82.2,108.6 C82.3,109.5 78.7,112.2 77.4,112.7 C76.1,113.2 70.5,113.6 69.3,114.0 C68.1,114.4 66.7,116.2 65.9,116.7 C65.2,117.2 62.7,119.3 61.8,119.4 C60.9,119.5 57.8,118.8 57.1,118.1 C56.4,117.4 55.1,113.7 54.4,112.7 C53.6,111.8 51.0,110.6 49.6,108.6 C48.2,106.6 40.5,94.1 40.2,92.3 C39.9,90.5 45.1,90.7 46.3,91.0 C47.5,91.3 51.6,94.7 52.4,95.0 C53.2,95.3 54.7,94.5 54.4,93.7 C54.1,92.9 49.8,89.3 49.0,86.9 C48.2,84.5 46.4,70.6 46.9,69.3 C47.4,68.0 52.8,73.1 53.7,73.4 C54.7,73.7 56.1,72.8 56.4,72.0 C56.7,71.2 56.5,66.8 57.1,65.2 C57.7,63.6 61.3,57.6 62.5,55.7 C63.7,53.8 68.2,47.7 69.3,46.3 C70.4,44.9 72.4,40.8 73.1,41.5 Z" fill="#82bb54"/><g clip-path="url(#lc1)">
<g filter="url(#soft2)" opacity="0.55"><ellipse cx="66" cy="80" rx="9" ry="16" fill="#96cd60"/><ellipse cx="58" cy="104" rx="8" ry="7" fill="#72ad42"/></g>
<path d="M72.5,46 L69.5,75 L66.5,100 L62.5,118" stroke="#a9d98c" stroke-width="1.1" fill="none" opacity="0.85"/>
<circle cx="61.2" cy="75.2" r="2.9" fill="#a8cc70" stroke="#e8ec9c" stroke-width="1.8"/>
<circle cx="74.4" cy="67.6" r="2.9" fill="#a8cc70" stroke="#e8ec9c" stroke-width="1.8"/>
<circle cx="62.6" cy="94.8" r="2.9" fill="#a8cc70" stroke="#e8ec9c" stroke-width="1.8"/>
<circle cx="73.6" cy="91.2" r="2.9" fill="#a8cc70" stroke="#e8ec9c" stroke-width="1.8"/>
</g>
<clipPath id="lc2"><path d="M138.6,43.6 C139.3,43.5 142.2,47.9 143.0,49.0 C143.8,50.1 145.7,53.8 146.1,55.1 C146.5,56.5 146.3,61.4 147.0,62.5 C147.7,63.6 152.7,64.8 153.5,65.9 C154.3,67.0 155.0,72.1 154.9,73.4 C154.8,74.7 151.4,79.1 152.8,78.8 C154.2,78.5 167.8,70.3 169.3,70.2 C170.8,70.1 168.2,75.8 167.8,77.4 C167.4,79.0 165.6,84.4 165.5,86.0 C165.4,87.6 166.9,91.2 166.4,93.0 C165.9,94.8 161.2,102.0 160.6,103.8 C160.0,105.6 161.2,109.9 160.3,111.3 C159.4,112.7 153.2,117.3 151.5,118.1 C149.8,118.9 145.4,118.9 143.4,119.4 C141.4,119.9 132.9,124.6 131.2,123.5 C129.5,122.4 126.8,110.9 126.4,108.6 C126.0,106.3 127.2,102.7 127.3,100.5 C127.4,98.3 128.3,88.7 127.1,86.9 C125.9,85.1 115.3,82.9 114.9,82.2 C114.5,81.5 121.4,79.8 123.0,79.5 C124.6,79.2 129.6,79.7 130.5,78.8 C131.4,77.9 131.6,72.0 131.8,70.7 C132.0,69.4 132.3,66.7 132.4,65.5 C132.5,64.3 132.5,60.0 132.8,58.5 C133.1,57.0 134.9,51.5 135.5,50.0 C136.1,48.5 137.8,43.7 138.6,43.6 Z"/></clipPath><path d="M138.6,43.6 C139.3,43.5 142.2,47.9 143.0,49.0 C143.8,50.1 145.7,53.8 146.1,55.1 C146.5,56.5 146.3,61.4 147.0,62.5 C147.7,63.6 152.7,64.8 153.5,65.9 C154.3,67.0 155.0,72.1 154.9,73.4 C154.8,74.7 151.4,79.1 152.8,78.8 C154.2,78.5 167.8,70.3 169.3,70.2 C170.8,70.1 168.2,75.8 167.8,77.4 C167.4,79.0 165.6,84.4 165.5,86.0 C165.4,87.6 166.9,91.2 166.4,93.0 C165.9,94.8 161.2,102.0 160.6,103.8 C160.0,105.6 161.2,109.9 160.3,111.3 C159.4,112.7 153.2,117.3 151.5,118.1 C149.8,118.9 145.4,118.9 143.4,119.4 C141.4,119.9 132.9,124.6 131.2,123.5 C129.5,122.4 126.8,110.9 126.4,108.6 C126.0,106.3 127.2,102.7 127.3,100.5 C127.4,98.3 128.3,88.7 127.1,86.9 C125.9,85.1 115.3,82.9 114.9,82.2 C114.5,81.5 121.4,79.8 123.0,79.5 C124.6,79.2 129.6,79.7 130.5,78.8 C131.4,77.9 131.6,72.0 131.8,70.7 C132.0,69.4 132.3,66.7 132.4,65.5 C132.5,64.3 132.5,60.0 132.8,58.5 C133.1,57.0 134.9,51.5 135.5,50.0 C136.1,48.5 137.8,43.7 138.6,43.6 Z" fill="#8fca5c"/><g clip-path="url(#lc2)">
<path d="M138.6,43.6 C139.3,43.5 142.2,47.9 143.0,49.0 C143.8,50.1 145.7,53.8 146.1,55.1 C146.5,56.5 147.5,61.3 147.0,62.5 C146.5,63.7 142.5,66.7 141.0,67.0 C139.5,67.3 133.2,66.3 132.4,65.5 C131.6,64.7 132.5,60.0 132.8,58.5 C133.1,57.0 134.9,51.5 135.5,50.0 C136.1,48.5 137.8,43.7 138.6,43.6 Z" fill="#a8d84a" />
<path d="M133.0,66.0 C134.2,64.5 138.1,64.9 140.0,64.5 C141.9,64.1 145.2,62.7 147.0,63.0 C148.8,63.3 152.8,65.0 153.5,66.5 C154.2,68.0 153.0,72.2 152.0,74.0 C151.0,75.8 147.3,78.1 146.0,80.0 C144.7,81.9 141.5,86.7 142.0,88.0 C142.5,89.3 148.0,88.9 150.0,90.0 C152.0,91.1 155.8,94.4 157.0,96.0 C158.2,97.6 159.7,100.8 159.0,102.0 C158.3,103.2 154.1,104.7 152.0,105.0 C149.9,105.3 145.4,103.9 143.0,104.0 C140.6,104.1 136.1,106.1 134.0,106.0 C131.9,105.9 128.3,104.9 127.5,103.0 C126.7,101.1 127.8,94.5 128.0,92.0 C128.2,89.5 128.6,86.1 129.0,84.0 C129.4,81.9 130.5,78.4 131.0,76.0 C131.5,73.6 131.8,67.5 133.0,66.0 Z" fill="#d6d1a6" />
<clipPath id="beige2"><path d="M133.0,66.0 C134.2,64.5 138.1,64.9 140.0,64.5 C141.9,64.1 145.2,62.7 147.0,63.0 C148.8,63.3 152.8,65.0 153.5,66.5 C154.2,68.0 153.0,72.2 152.0,74.0 C151.0,75.8 147.3,78.1 146.0,80.0 C144.7,81.9 141.5,86.7 142.0,88.0 C142.5,89.3 148.0,88.9 150.0,90.0 C152.0,91.1 155.8,94.4 157.0,96.0 C158.2,97.6 159.7,100.8 159.0,102.0 C158.3,103.2 154.1,104.7 152.0,105.0 C149.9,105.3 145.4,103.9 143.0,104.0 C140.6,104.1 136.1,106.1 134.0,106.0 C131.9,105.9 128.3,104.9 127.5,103.0 C126.7,101.1 127.8,94.5 128.0,92.0 C128.2,89.5 128.6,86.1 129.0,84.0 C129.4,81.9 130.5,78.4 131.0,76.0 C131.5,73.6 131.8,67.5 133.0,66.0 Z"/></clipPath>
<g clip-path="url(#beige2)"><circle cx="137.7" cy="70.3" r="1.3" fill="#bfc79a" opacity="0.75"/><circle cx="152.6" cy="68.0" r="1.3" fill="#dcd8b0" opacity="0.75"/><circle cx="143.2" cy="65.6" r="1.8" fill="#a7b47e" opacity="0.75"/><circle cx="135.2" cy="87.1" r="2.4" fill="#e4e0bc" opacity="0.75"/><circle cx="131.7" cy="73.4" r="2.0" fill="#bfc79a" opacity="0.75"/><circle cx="129.9" cy="88.6" r="2.6" fill="#e4e0bc" opacity="0.75"/><circle cx="129.4" cy="100.1" r="1.8" fill="#b2b08a" opacity="0.75"/><circle cx="144.2" cy="88.0" r="2.3" fill="#dcd8b0" opacity="0.75"/><circle cx="133.4" cy="88.4" r="1.5" fill="#bfc79a" opacity="0.75"/><circle cx="130.9" cy="93.9" r="1.3" fill="#dcd8b0" opacity="0.75"/><circle cx="134.2" cy="92.6" r="2.3" fill="#a7b47e" opacity="0.75"/><circle cx="142.0" cy="102.8" r="1.6" fill="#b2b08a" opacity="0.75"/><circle cx="151.8" cy="93.4" r="1.3" fill="#c9c49a" opacity="0.75"/><circle cx="137.0" cy="84.8" r="2.2" fill="#b2b08a" opacity="0.75"/><circle cx="136.6" cy="105.2" r="1.9" fill="#e4e0bc" opacity="0.75"/><circle cx="132.9" cy="78.4" r="1.8" fill="#a7b47e" opacity="0.75"/><circle cx="156.9" cy="67.3" r="2.0" fill="#dcd8b0" opacity="0.75"/><circle cx="154.3" cy="77.2" r="1.7" fill="#bfc79a" opacity="0.75"/><circle cx="142.9" cy="97.5" r="2.4" fill="#e4e0bc" opacity="0.75"/><circle cx="156.3" cy="83.9" r="1.3" fill="#bfc79a" opacity="0.75"/><circle cx="149.9" cy="77.0" r="2.6" fill="#dcd8b0" opacity="0.75"/><circle cx="152.7" cy="76.0" r="2.4" fill="#a7b47e" opacity="0.75"/><circle cx="138.4" cy="103.5" r="1.4" fill="#b2b08a" opacity="0.75"/><circle cx="131.5" cy="66.5" r="1.4" fill="#b2b08a" opacity="0.75"/><circle cx="135.4" cy="80.4" r="1.3" fill="#a7b47e" opacity="0.75"/><circle cx="141.5" cy="87.1" r="2.3" fill="#c9c49a" opacity="0.75"/><circle cx="153.9" cy="75.7" r="2.6" fill="#a7b47e" opacity="0.75"/><circle cx="148.5" cy="80.0" r="1.4" fill="#c9c49a" opacity="0.75"/><circle cx="133.3" cy="73.7" r="1.2" fill="#c9c49a" opacity="0.75"/><circle cx="152.9" cy="71.7" r="1.2" fill="#b2b08a" opacity="0.75"/><circle cx="140.6" cy="79.5" r="1.6" fill="#dcd8b0" opacity="0.75"/><circle cx="131.8" cy="100.1" r="2.1" fill="#dcd8b0" opacity="0.75"/><circle cx="150.2" cy="83.2" r="2.3" fill="#bfc79a" opacity="0.75"/><circle cx="139.8" cy="80.8" r="1.9" fill="#e4e0bc" opacity="0.75"/><circle cx="140.0" cy="72.0" r="1.8" fill="#c9c49a" opacity="0.75"/><circle cx="131.3" cy="89.2" r="1.2" fill="#e4e0bc" opacity="0.75"/><circle cx="132.5" cy="68.3" r="2.1" fill="#b2b08a" opacity="0.75"/><circle cx="130.1" cy="72.7" r="1.4" fill="#a7b47e" opacity="0.75"/></g>
<g filter="url(#soft2)"><ellipse cx="135" cy="72" rx="3.5" ry="5" fill="#8f9370" opacity="0.8"/><ellipse cx="150" cy="98" rx="4" ry="3" fill="#a9a47e" opacity="0.7"/><ellipse cx="136" cy="92" rx="3" ry="5" fill="#bdb995" opacity="0.7"/></g>
<path d="M151.5,71.0 C152.4,70.4 154.4,72.7 154.0,74.0 C153.6,75.3 148.1,82.4 147.0,84.0 C145.9,85.6 143.7,89.6 143.0,90.0 C142.3,90.4 140.3,89.0 140.5,88.0 C140.7,87.0 143.9,81.7 145.0,80.0 C146.1,78.3 150.6,71.6 151.5,71.0 Z" fill="#9ccd5c" />
<path d="M152.3,80.3 C153.9,78.5 167.8,70.5 169.3,70.2 C170.9,69.9 168.2,75.8 167.8,77.4 C167.4,79.0 165.6,84.5 165.5,86.0 C165.4,87.5 166.9,90.2 166.4,92.0 C165.9,93.8 161.5,103.4 160.6,103.8 C159.7,104.2 157.8,97.6 157.0,96.0 C156.2,94.4 153.5,89.6 153.0,88.0 C152.5,86.4 150.7,82.1 152.3,80.3 Z" fill="#84c453" />
<path d="M114.9,82.2 C115.1,81.7 121.5,79.8 123.0,79.5 C124.5,79.2 129.8,78.8 130.4,79.2 C131.0,79.7 129.3,83.3 129.0,84.0 C128.7,84.7 127.8,86.0 127.0,86.1 C126.2,86.2 122.2,85.4 121.0,85.0 C119.8,84.6 114.7,82.8 114.9,82.2 Z" fill="#96d05a" />
<path d="M127.3,102.0 C128.1,101.6 132.4,104.8 134.0,105.0 C135.6,105.2 141.2,103.5 143.0,103.5 C144.8,103.5 150.2,104.9 152.0,105.0 C153.8,105.1 159.8,103.9 160.6,104.5 C161.4,105.1 161.2,109.9 160.3,111.3 C159.4,112.7 153.2,117.3 151.5,118.1 C149.8,118.9 145.4,118.9 143.4,119.4 C141.4,119.9 132.9,124.6 131.2,123.5 C129.5,122.4 126.8,110.8 126.4,108.6 C126.0,106.4 126.5,102.4 127.3,102.0 Z" fill="#94d052" />
<path d="M131.5,122 L137,108 L146,104" stroke="#b6df8e" stroke-width="1" fill="none" opacity="0.8"/>
</g>
<clipPath id="lc3"><path d="M60.9,198.6 C62.0,198.7 65.5,205.8 66.6,208.0 C67.7,210.2 70.8,218.8 72.0,220.2 C73.2,221.6 77.4,221.5 78.1,222.3 C78.8,223.1 78.9,227.1 78.8,228.4 C78.7,229.7 76.4,234.2 76.7,235.1 C77.0,236.0 81.2,236.9 81.5,237.8 C81.8,238.8 79.8,243.7 80.1,244.6 C80.4,245.5 83.9,245.9 84.2,246.7 C84.5,247.5 83.4,251.4 82.8,252.8 C82.2,254.2 78.5,259.5 78.1,260.9 C77.7,262.3 79.7,265.8 78.8,267.0 C77.9,268.2 70.8,272.8 69.3,273.1 C67.8,273.4 65.1,270.8 63.9,270.4 C62.7,270.0 59.0,269.3 57.1,269.0 C55.2,268.7 46.0,267.6 44.9,267.0 C43.8,266.4 45.5,263.5 46.3,262.9 C47.0,262.3 52.5,261.8 52.4,260.9 C52.3,260.0 46.3,255.7 44.9,254.1 C43.5,252.5 38.1,245.7 38.1,244.6 C38.1,243.5 44.4,244.1 44.9,243.3 C45.4,242.5 43.8,238.1 43.6,236.5 C43.4,234.9 42.2,228.1 42.9,227.0 C43.6,225.9 49.4,226.8 50.3,225.7 C51.2,224.6 51.2,218.1 51.7,216.2 C52.2,214.3 54.8,208.5 55.7,206.7 C56.6,204.9 59.8,198.5 60.9,198.6 Z"/></clipPath><path d="M60.9,198.6 C62.0,198.7 65.5,205.8 66.6,208.0 C67.7,210.2 70.8,218.8 72.0,220.2 C73.2,221.6 77.4,221.5 78.1,222.3 C78.8,223.1 78.9,227.1 78.8,228.4 C78.7,229.7 76.4,234.2 76.7,235.1 C77.0,236.0 81.2,236.9 81.5,237.8 C81.8,238.8 79.8,243.7 80.1,244.6 C80.4,245.5 83.9,245.9 84.2,246.7 C84.5,247.5 83.4,251.4 82.8,252.8 C82.2,254.2 78.5,259.5 78.1,260.9 C77.7,262.3 79.7,265.8 78.8,267.0 C77.9,268.2 70.8,272.8 69.3,273.1 C67.8,273.4 65.1,270.8 63.9,270.4 C62.7,270.0 59.0,269.3 57.1,269.0 C55.2,268.7 46.0,267.6 44.9,267.0 C43.8,266.4 45.5,263.5 46.3,262.9 C47.0,262.3 52.5,261.8 52.4,260.9 C52.3,260.0 46.3,255.7 44.9,254.1 C43.5,252.5 38.1,245.7 38.1,244.6 C38.1,243.5 44.4,244.1 44.9,243.3 C45.4,242.5 43.8,238.1 43.6,236.5 C43.4,234.9 42.2,228.1 42.9,227.0 C43.6,225.9 49.4,226.8 50.3,225.7 C51.2,224.6 51.2,218.1 51.7,216.2 C52.2,214.3 54.8,208.5 55.7,206.7 C56.6,204.9 59.8,198.5 60.9,198.6 Z" fill="#74ac40"/><g clip-path="url(#lc3)">
<g filter="url(#soft2)"><path d="M64,242 L79,236 L84,247 L80,262 L70,272 L65,262 Z" fill="#55921f" opacity="0.85"/><ellipse cx="58" cy="227" rx="5" ry="5" fill="#8fc85e" opacity="0.7"/><ellipse cx="52" cy="255" rx="5" ry="3.5" fill="#86c055" opacity="0.6"/></g>
<path d="M60.5,202 L62,240 L64.5,271" stroke="#9ccf70" stroke-width="1.1" fill="none" opacity="0.8"/>
</g>
<clipPath id="lc4"><path d="M146.4,204.0 C147.7,203.9 149.9,213.7 150.4,215.7 C150.9,217.7 151.2,222.6 151.8,223.7 C152.4,224.8 155.7,225.7 156.2,226.6 C156.7,227.5 157.1,232.1 156.9,233.2 C156.8,234.3 154.4,237.1 154.7,237.6 C155.0,238.1 159.3,237.6 159.9,238.3 C160.5,239.0 160.8,243.7 160.6,244.9 C160.4,246.1 158.3,248.8 158.4,250.0 C158.5,251.2 161.6,255.1 161.3,256.5 C161.0,257.9 156.2,262.4 155.5,263.8 C154.8,265.2 155.6,269.7 154.7,270.4 C153.8,271.1 148.1,271.5 146.7,271.1 C145.3,270.7 141.9,267.5 140.9,266.8 C139.9,266.1 138.0,265.0 136.5,263.8 C135.0,262.6 127.0,256.3 126.3,255.1 C125.6,253.9 129.0,252.6 129.2,251.4 C129.4,250.2 128.4,245.2 128.5,243.4 C128.6,241.6 129.2,235.2 129.9,233.2 C130.6,231.2 134.3,224.6 135.0,223.0 C135.7,221.4 136.1,219.0 137.2,217.1 C138.3,215.2 145.1,204.1 146.4,204.0 Z"/></clipPath><path d="M146.4,204.0 C147.7,203.9 149.9,213.7 150.4,215.7 C150.9,217.7 151.2,222.6 151.8,223.7 C152.4,224.8 155.7,225.7 156.2,226.6 C156.7,227.5 157.1,232.1 156.9,233.2 C156.8,234.3 154.4,237.1 154.7,237.6 C155.0,238.1 159.3,237.6 159.9,238.3 C160.5,239.0 160.8,243.7 160.6,244.9 C160.4,246.1 158.3,248.8 158.4,250.0 C158.5,251.2 161.6,255.1 161.3,256.5 C161.0,257.9 156.2,262.4 155.5,263.8 C154.8,265.2 155.6,269.7 154.7,270.4 C153.8,271.1 148.1,271.5 146.7,271.1 C145.3,270.7 141.9,267.5 140.9,266.8 C139.9,266.1 138.0,265.0 136.5,263.8 C135.0,262.6 127.0,256.3 126.3,255.1 C125.6,253.9 129.0,252.6 129.2,251.4 C129.4,250.2 128.4,245.2 128.5,243.4 C128.6,241.6 129.2,235.2 129.9,233.2 C130.6,231.2 134.3,224.6 135.0,223.0 C135.7,221.4 136.1,219.0 137.2,217.1 C138.3,215.2 145.1,204.1 146.4,204.0 Z" fill="#84b040"/><g clip-path="url(#lc4)">
<path d="M146.4,204.0 C147.7,203.9 149.9,213.9 150.4,215.7 C150.9,217.5 152.5,221.4 151.8,222.0 C151.1,222.6 144.4,222.3 143.0,222.0 C141.6,221.7 138.6,219.5 138.0,219.0 C137.4,218.5 136.4,218.6 137.2,217.1 C138.0,215.6 145.1,204.1 146.4,204.0 Z" fill="#9fd35c" />
<g filter="url(#soft2)"><path d="M133,222 L145,221 L153,224 L152,231 L145,235 L138,236 L132,233 Z" fill="#9aab84"/><ellipse cx="133.5" cy="245.5" rx="5" ry="5" fill="#9eab88"/><ellipse cx="148.2" cy="243.5" rx="3.8" ry="5" fill="#96a67e"/></g>
<path d="M146,206 L144,240 L141,266" stroke="#b4df86" stroke-width="1" fill="none" opacity="0.7"/>
</g>
<clipPath id="lc5"><path d="M60.5,421.7 C61.6,421.2 64.6,427.0 65.7,428.5 C66.8,430.0 70.4,434.8 71.1,436.6 C71.8,438.4 72.2,445.3 73.1,446.1 C74.0,446.9 79.1,444.2 79.9,444.7 C80.7,445.2 81.3,449.5 81.2,451.5 C81.1,453.5 79.0,463.5 79.2,465.0 C79.4,466.5 83.0,465.8 83.3,466.4 C83.6,466.9 82.5,469.6 81.9,470.5 C81.3,471.4 77.2,474.5 77.2,475.2 C77.2,475.9 81.9,476.4 81.9,477.2 C81.9,477.9 78.5,481.8 77.2,482.7 C75.9,483.6 69.4,485.6 68.4,486.7 C67.4,487.8 67.8,492.8 67.6,493.5 C67.4,494.2 66.7,493.9 66.4,493.5 C66.1,493.1 65.8,490.0 65.0,489.4 C64.2,488.8 60.2,487.9 58.9,487.4 C57.6,486.9 52.9,484.9 52.1,484.0 C51.4,483.1 52.1,479.7 51.4,478.6 C50.6,477.5 45.6,474.6 44.6,473.2 C43.6,471.8 41.8,467.2 41.3,465.0 C40.8,462.8 38.7,452.1 39.2,450.8 C39.7,449.5 45.3,452.0 46.7,452.2 C48.1,452.4 52.8,453.6 53.5,452.8 C54.2,452.1 53.4,446.6 53.5,444.7 C53.6,442.8 54.1,436.2 54.8,433.9 C55.5,431.6 59.4,422.2 60.5,421.7 Z"/></clipPath><path d="M60.5,421.7 C61.6,421.2 64.6,427.0 65.7,428.5 C66.8,430.0 70.4,434.8 71.1,436.6 C71.8,438.4 72.2,445.3 73.1,446.1 C74.0,446.9 79.1,444.2 79.9,444.7 C80.7,445.2 81.3,449.5 81.2,451.5 C81.1,453.5 79.0,463.5 79.2,465.0 C79.4,466.5 83.0,465.8 83.3,466.4 C83.6,466.9 82.5,469.6 81.9,470.5 C81.3,471.4 77.2,474.5 77.2,475.2 C77.2,475.9 81.9,476.4 81.9,477.2 C81.9,477.9 78.5,481.8 77.2,482.7 C75.9,483.6 69.4,485.6 68.4,486.7 C67.4,487.8 67.8,492.8 67.6,493.5 C67.4,494.2 66.7,493.9 66.4,493.5 C66.1,493.1 65.8,490.0 65.0,489.4 C64.2,488.8 60.2,487.9 58.9,487.4 C57.6,486.9 52.9,484.9 52.1,484.0 C51.4,483.1 52.1,479.7 51.4,478.6 C50.6,477.5 45.6,474.6 44.6,473.2 C43.6,471.8 41.8,467.2 41.3,465.0 C40.8,462.8 38.7,452.1 39.2,450.8 C39.7,449.5 45.3,452.0 46.7,452.2 C48.1,452.4 52.8,453.6 53.5,452.8 C54.2,452.1 53.4,446.6 53.5,444.7 C53.6,442.8 54.1,436.2 54.8,433.9 C55.5,431.6 59.4,422.2 60.5,421.7 Z" fill="#54880f"/><g clip-path="url(#lc5)">
<g filter="url(#soft2)"><ellipse cx="62" cy="440" rx="5" ry="9" fill="#5a900c" opacity="0.7"/><ellipse cx="72" cy="472" rx="6" ry="6" fill="#3f6e02" opacity="0.6"/></g>
<path d="M61,425 L63.5,455 L66.5,492" stroke="#86b85a" stroke-width="1" fill="none" opacity="0.8"/>
<circle cx="59.5" cy="446" r="2.4" fill="none" stroke="#c8dc8a" stroke-width="1.3" opacity="0.9"/>
<circle cx="68" cy="443" r="2.4" fill="none" stroke="#c8dc8a" stroke-width="1.3" opacity="0.9"/>
<circle cx="70" cy="466" r="2.4" fill="none" stroke="#c8dc8a" stroke-width="1.3" opacity="0.9"/>
<circle cx="57" cy="480" r="2.4" fill="none" stroke="#c8dc8a" stroke-width="1.3" opacity="0.9"/>
</g>
<clipPath id="lc6"><path d="M151.5,433.2 C152.1,433.5 152.4,436.9 152.2,437.9 C152.0,438.9 149.7,442.3 149.5,443.4 C149.3,444.5 149.6,447.8 150.1,448.8 C150.6,449.8 153.2,453.4 154.2,453.5 C155.2,453.6 159.1,450.0 160.3,449.5 C161.5,449.0 165.8,447.9 166.4,448.8 C167.0,449.7 166.7,456.3 166.4,458.3 C166.1,460.3 163.9,467.6 163.7,469.1 C163.5,470.7 164.9,472.7 164.4,473.8 C163.9,474.9 159.9,478.8 158.3,480.0 C156.7,481.2 150.0,484.5 148.8,485.4 C147.6,486.3 147.2,489.3 146.7,489.4 C146.2,489.5 144.6,487.1 143.4,486.7 C142.2,486.3 136.6,486.3 134.6,485.4 C132.6,484.4 124.9,478.4 123.7,477.2 C122.5,476.0 122.5,473.9 123.0,473.2 C123.5,472.5 128.9,471.7 129.1,470.5 C129.3,469.3 125.2,462.1 125.1,461.0 C125.0,459.9 128.3,460.6 128.5,459.6 C128.7,458.7 126.7,452.7 127.1,451.5 C127.5,450.3 131.4,448.1 132.5,447.4 C133.6,446.7 136.8,445.5 137.9,444.7 C139.0,443.9 142.6,440.2 143.4,439.3 C144.2,438.4 145.3,435.8 146.1,435.2 C146.9,434.6 150.9,432.9 151.5,433.2 Z"/></clipPath><path d="M151.5,433.2 C152.1,433.5 152.4,436.9 152.2,437.9 C152.0,438.9 149.7,442.3 149.5,443.4 C149.3,444.5 149.6,447.8 150.1,448.8 C150.6,449.8 153.2,453.4 154.2,453.5 C155.2,453.6 159.1,450.0 160.3,449.5 C161.5,449.0 165.8,447.9 166.4,448.8 C167.0,449.7 166.7,456.3 166.4,458.3 C166.1,460.3 163.9,467.6 163.7,469.1 C163.5,470.7 164.9,472.7 164.4,473.8 C163.9,474.9 159.9,478.8 158.3,480.0 C156.7,481.2 150.0,484.5 148.8,485.4 C147.6,486.3 147.2,489.3 146.7,489.4 C146.2,489.5 144.6,487.1 143.4,486.7 C142.2,486.3 136.6,486.3 134.6,485.4 C132.6,484.4 124.9,478.4 123.7,477.2 C122.5,476.0 122.5,473.9 123.0,473.2 C123.5,472.5 128.9,471.7 129.1,470.5 C129.3,469.3 125.2,462.1 125.1,461.0 C125.0,459.9 128.3,460.6 128.5,459.6 C128.7,458.7 126.7,452.7 127.1,451.5 C127.5,450.3 131.4,448.1 132.5,447.4 C133.6,446.7 136.8,445.5 137.9,444.7 C139.0,443.9 142.6,440.2 143.4,439.3 C144.2,438.4 145.3,435.8 146.1,435.2 C146.9,434.6 150.9,432.9 151.5,433.2 Z" fill="#5e7a3c"/><g clip-path="url(#lc6)">
<g filter="url(#soft2)"><ellipse cx="150" cy="445" rx="3" ry="6" fill="#7f9a58" opacity="0.8"/><ellipse cx="156" cy="462" rx="5" ry="6" fill="#5a9436" opacity="0.8"/><ellipse cx="132" cy="456" rx="4" ry="5" fill="#76885a" opacity="0.8"/><ellipse cx="162" cy="456" rx="3" ry="5" fill="#8a9a66" opacity="0.8"/></g>
<path d="M123.7,477.2 C122.5,476.0 122.5,473.9 123.0,473.2 C123.5,472.5 128.9,471.7 129.1,470.5 C129.3,469.3 125.2,462.1 125.1,461.0 C125.0,459.9 127.7,458.9 128.5,459.6 C129.3,460.3 131.8,466.2 133.0,468.0 C134.2,469.8 138.7,476.6 140.0,478.0 C141.3,479.4 144.8,482.2 146.0,482.0 C147.2,481.8 150.6,477.2 152.0,476.0 C153.4,474.8 158.8,470.7 160.0,470.0 C161.2,469.3 163.3,468.7 163.7,469.1 C164.1,469.5 164.9,472.7 164.4,473.8 C163.9,474.9 159.9,478.8 158.3,480.0 C156.7,481.2 150.0,484.5 148.8,485.4 C147.6,486.3 147.2,489.3 146.7,489.4 C146.2,489.5 144.6,487.1 143.4,486.7 C142.2,486.3 136.6,486.3 134.6,485.4 C132.6,484.4 124.9,478.4 123.7,477.2 Z" fill="#62a92b" />
<path d="M126.0,460.5 C126.1,459.5 128.3,459.0 129.0,459.6 C129.7,460.2 133.1,466.0 133.0,467.0 C132.9,468.0 128.7,470.6 128.0,470.0 C127.3,469.4 125.9,461.5 126.0,460.5 Z" fill="#8cc83e" />
<g filter="url(#soft2)" opacity="0.9"><path d="M133,449 L137,458 L141,470" stroke="#1e2216" stroke-width="2.6" fill="none"/><path d="M146,444 L147,456 L150,468" stroke="#2b3220" stroke-width="2" fill="none"/></g>
<path d="M134,450 L137.5,458 L140.5,468" stroke="#15180e" stroke-width="1.2" fill="none"/>
<path d="M141,452 L144,466 L147,476" stroke="#2e321e" stroke-width="1.0" fill="none" opacity="0.8"/>
<path d="M162,450 L165,452" stroke="#2a2a1c" stroke-width="1.4" fill="none"/>
<g filter="url(#soft2)"><ellipse cx="143" cy="474" rx="5" ry="3" fill="#a89c6c"/><ellipse cx="152" cy="474" rx="3" ry="2" fill="#a89c6c" opacity="0.7"/></g>
<path d="M149,435 L152,434" stroke="#b9d67e" stroke-width="1.5" fill="none"/>
</g>
<clipPath id="lc7"><path d="M58.2,577.4 C58.9,577.3 60.9,583.1 61.6,584.1 C62.4,585.1 64.5,586.6 65.7,587.5 C66.9,588.4 72.2,591.4 73.1,592.9 C74.0,594.4 74.5,600.8 75.1,602.4 C75.7,604.0 78.7,607.4 79.2,609.2 C79.7,611.0 80.0,617.8 79.9,620.0 C79.8,622.2 78.8,629.3 77.8,630.9 C76.8,632.5 71.0,635.5 69.7,636.3 C68.4,637.1 65.6,638.6 64.3,639.0 C62.9,639.4 58.0,640.8 56.2,640.4 C54.4,640.0 47.9,636.1 46.7,634.9 C45.5,633.7 44.7,629.8 44.0,628.2 C43.3,626.6 39.4,619.9 39.9,618.7 C40.4,617.6 48.5,617.7 49.4,616.7 C50.3,615.8 49.2,610.8 48.7,609.2 C48.2,607.6 44.6,602.6 44.0,601.1 C43.4,599.6 42.0,595.0 42.6,594.3 C43.2,593.5 48.9,594.6 50.1,593.6 C51.3,592.6 54.0,586.4 54.8,584.8 C55.6,583.2 57.5,577.5 58.2,577.4 Z"/></clipPath><path d="M58.2,577.4 C58.9,577.3 60.9,583.1 61.6,584.1 C62.4,585.1 64.5,586.6 65.7,587.5 C66.9,588.4 72.2,591.4 73.1,592.9 C74.0,594.4 74.5,600.8 75.1,602.4 C75.7,604.0 78.7,607.4 79.2,609.2 C79.7,611.0 80.0,617.8 79.9,620.0 C79.8,622.2 78.8,629.3 77.8,630.9 C76.8,632.5 71.0,635.5 69.7,636.3 C68.4,637.1 65.6,638.6 64.3,639.0 C62.9,639.4 58.0,640.8 56.2,640.4 C54.4,640.0 47.9,636.1 46.7,634.9 C45.5,633.7 44.7,629.8 44.0,628.2 C43.3,626.6 39.4,619.9 39.9,618.7 C40.4,617.6 48.5,617.7 49.4,616.7 C50.3,615.8 49.2,610.8 48.7,609.2 C48.2,607.6 44.6,602.6 44.0,601.1 C43.4,599.6 42.0,595.0 42.6,594.3 C43.2,593.5 48.9,594.6 50.1,593.6 C51.3,592.6 54.0,586.4 54.8,584.8 C55.6,583.2 57.5,577.5 58.2,577.4 Z" fill="#528620"/><g clip-path="url(#lc7)">
<g filter="url(#soft2)"><ellipse cx="56" cy="625" rx="7" ry="8" fill="#5a8a10" opacity="0.6"/></g>
<path d="M58,585 L61,615 L64,638" stroke="#7fb04c" stroke-width="1" fill="none" opacity="0.8"/>
<circle cx="61" cy="592.5" r="2.8" fill="#4f8a1c" stroke="#d2e28e" stroke-width="1.5"/>
<circle cx="55" cy="609" r="3" fill="none" stroke="#a9c66a" stroke-width="1.2" opacity="0.8"/>
<circle cx="53.5" cy="593.8" r="1" fill="#eef2d0"/>
</g>
<clipPath id="lc8"><path d="M141.6,574.0 C142.3,574.5 143.4,581.4 143.8,582.7 C144.2,584.0 145.3,586.4 146.0,587.1 C146.7,587.8 150.5,588.3 151.1,589.3 C151.7,590.3 151.3,595.9 151.8,597.3 C152.3,598.7 155.9,602.0 156.2,603.2 C156.5,604.4 155.1,607.9 154.7,609.0 C154.3,610.1 152.1,613.3 152.6,614.1 C153.1,614.9 159.4,616.0 159.9,617.0 C160.4,618.0 158.5,622.1 157.7,623.6 C156.9,625.1 153.2,631.0 151.8,632.4 C150.4,633.8 145.2,637.1 143.8,637.5 C142.4,637.9 139.5,636.7 138.0,636.0 C136.5,635.3 130.7,632.1 129.2,630.9 C127.7,629.7 123.6,625.2 123.4,624.3 C123.2,623.4 126.7,623.0 127.0,622.2 C127.3,621.4 126.6,618.1 126.3,616.3 C126.0,614.5 124.2,606.2 124.1,604.6 C124.0,603.0 125.6,601.4 125.5,600.3 C125.4,599.2 123.3,594.9 123.4,593.7 C123.5,592.5 125.4,589.8 126.3,588.6 C127.2,587.4 131.1,583.1 132.1,582.0 C133.1,580.9 135.6,578.4 136.5,577.6 C137.4,576.8 140.9,573.5 141.6,574.0 Z"/></clipPath><path d="M141.6,574.0 C142.3,574.5 143.4,581.4 143.8,582.7 C144.2,584.0 145.3,586.4 146.0,587.1 C146.7,587.8 150.5,588.3 151.1,589.3 C151.7,590.3 151.3,595.9 151.8,597.3 C152.3,598.7 155.9,602.0 156.2,603.2 C156.5,604.4 155.1,607.9 154.7,609.0 C154.3,610.1 152.1,613.3 152.6,614.1 C153.1,614.9 159.4,616.0 159.9,617.0 C160.4,618.0 158.5,622.1 157.7,623.6 C156.9,625.1 153.2,631.0 151.8,632.4 C150.4,633.8 145.2,637.1 143.8,637.5 C142.4,637.9 139.5,636.7 138.0,636.0 C136.5,635.3 130.7,632.1 129.2,630.9 C127.7,629.7 123.6,625.2 123.4,624.3 C123.2,623.4 126.7,623.0 127.0,622.2 C127.3,621.4 126.6,618.1 126.3,616.3 C126.0,614.5 124.2,606.2 124.1,604.6 C124.0,603.0 125.6,601.4 125.5,600.3 C125.4,599.2 123.3,594.9 123.4,593.7 C123.5,592.5 125.4,589.8 126.3,588.6 C127.2,587.4 131.1,583.1 132.1,582.0 C133.1,580.9 135.6,578.4 136.5,577.6 C137.4,576.8 140.9,573.5 141.6,574.0 Z" fill="#64981e"/><g clip-path="url(#lc8)">
<g filter="url(#soft2)"><ellipse cx="141" cy="612" rx="8" ry="14" fill="#4b7a08" opacity="0.75"/></g>
<ellipse cx="139" cy="586" rx="3.8" ry="3.8" fill="#82964a" opacity="0.85" filter="url(#soft2)"/>
<ellipse cx="139" cy="586" rx="3.8" ry="3.8" fill="none" stroke="#c8c684" stroke-width="0.9" opacity="0.75" stroke-dasharray="5 2"/>
<ellipse cx="141.5" cy="592.5" rx="4" ry="3.5" fill="#82964a" opacity="0.85" filter="url(#soft2)"/>
<ellipse cx="141.5" cy="592.5" rx="4" ry="3.5" fill="none" stroke="#c8c684" stroke-width="0.9" opacity="0.75" stroke-dasharray="5 2"/>
<ellipse cx="130.7" cy="607" rx="4.3" ry="5.5" fill="#82964a" opacity="0.85" filter="url(#soft2)"/>
<ellipse cx="130.7" cy="607" rx="4.3" ry="5.5" fill="none" stroke="#c8c684" stroke-width="0.9" opacity="0.75" stroke-dasharray="5 2"/>
<ellipse cx="145.9" cy="611" rx="4.2" ry="4.8" fill="#82964a" opacity="0.85" filter="url(#soft2)"/>
<ellipse cx="145.9" cy="611" rx="4.2" ry="4.8" fill="none" stroke="#c8c684" stroke-width="0.9" opacity="0.75" stroke-dasharray="5 2"/>
<path d="M141.5,578 L140,610 L139,636" stroke="#8cb852" stroke-width="0.9" fill="none" opacity="0.7"/>
</g>
</g>
</svg>
</body></html>
